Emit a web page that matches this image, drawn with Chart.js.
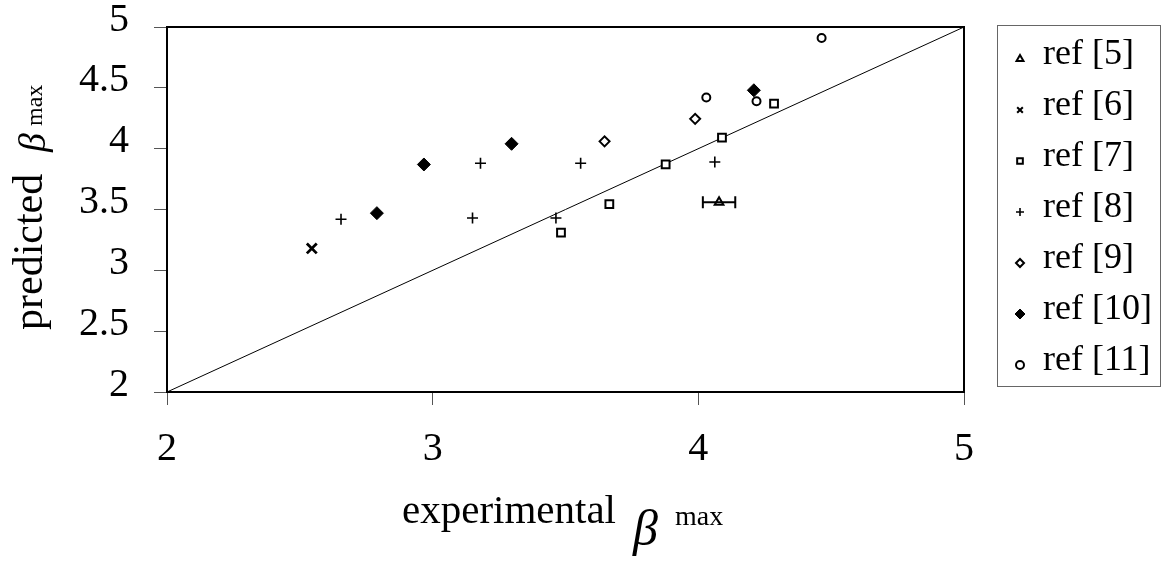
<!DOCTYPE html>
<html>
<head>
<meta charset="utf-8">
<script src="https://cdn.jsdelivr.net/npm/chart.js@4/dist/chart.umd.min.js"></script>
<style>
  html, body { margin: 0; padding: 0; background: #fff; }
  #wrap { width: 1163px; height: 565px; }
</style>
</head>
<body>
<div id="wrap"><canvas id="chart" width="1163" height="565"></canvas></div>
<script>
// values (experimental vs predicted beta max)
const ref5X = [4.078];
const ref5Y = [3.56];
const ref5Err = [0.061];
const ref6X = [2.545];
const ref6Y = [3.18];
const ref7X = [3.483, 3.665, 3.877, 4.089, 4.285];
const ref7Y = [3.31, 3.545, 3.87, 4.09, 4.37];
const ref8X = [2.655, 3.15, 3.18, 3.464, 3.557, 4.062];
const ref8Y = [3.42, 3.43, 3.88, 3.43, 3.88, 3.89];
const ref9X = [3.647, 3.988];
const ref9Y = [4.06, 4.245];
const ref10X = [2.79, 2.967, 3.297, 4.209];
const ref10Y = [3.47, 3.87, 4.04, 4.48];
const ref11X = [4.03, 4.219, 4.464];
const ref11Y = [4.42, 4.39, 4.91];
const diagX = [2, 5];
const diagY = [2, 5];

const legendLabels = ['ref [5]', 'ref [6]', 'ref [7]', 'ref [8]', 'ref [9]', 'ref [10]', 'ref [11]'];
const xTickValues = [2, 3, 4, 5];
const yTickValues = [2, 2.5, 3, 3.5, 4, 4.5, 5];

const SERIF = "'Liberation Serif', 'Times New Roman', serif";

function pts(xs, ys) {
    return xs.map((x, i) => ({ x: x, y: ys[i] }));
}

function markerSet(label, xs, ys, style, radius, fill, width) {
    return {
        label: label,
        data: pts(xs, ys),
        pointStyle: style,
        pointRadius: radius,
        pointHoverRadius: radius,
        pointBorderColor: '#000',
        pointBackgroundColor: fill,
        pointBorderWidth: width,
        borderColor: '#000',
        backgroundColor: fill,
        showLine: false
    };
}

const datasets = [
    markerSet(legendLabels[0], ref5X, ref5Y, 'triangle', 5, '#fff', 2),
    markerSet(legendLabels[1], ref6X, ref6Y, 'crossRot', 7, '#000', 2.8),
    markerSet(legendLabels[2], ref7X, ref7Y, 'rect', 5.5, '#fff', 2),
    markerSet(legendLabels[3], ref8X, ref8Y, 'cross', 5.5, '#000', 1.6),
    markerSet(legendLabels[4], ref9X, ref9Y, 'rectRot', 5, '#fff', 2),
    markerSet(legendLabels[5], ref10X, ref10Y, 'rectRot', 6.5, '#000', 1),
    markerSet(legendLabels[6], ref11X, ref11Y, 'circle', 4, '#fff', 2),
    {
        label: 'y = x',
        data: pts(diagX, diagY),
        showLine: true,
        borderColor: '#000',
        borderWidth: 1,
        pointRadius: 0,
        pointHoverRadius: 0
    }
];

// box round the plot, error bar, titles and the legend
const decorations = {
    id: 'decorations',
    afterDatasetsDraw(chart) {
        const ctx = chart.ctx;
        const xs = chart.scales.x;
        const ys = chart.scales.y;

        // horizontal error bar on ref [5]
        ctx.save();
        ctx.strokeStyle = '#000';
        ctx.lineWidth = 2;
        ref5X.forEach((x, i) => {
            const y = ys.getPixelForValue(ref5Y[i]);
            const x0 = xs.getPixelForValue(x - ref5Err[i]);
            const x1 = xs.getPixelForValue(x + ref5Err[i]);
            ctx.beginPath();
            ctx.moveTo(x0, y); ctx.lineTo(x1, y);
            ctx.moveTo(x0, y - 6); ctx.lineTo(x0, y + 6);
            ctx.moveTo(x1, y - 6); ctx.lineTo(x1, y + 6);
            ctx.stroke();
        });
        ctx.restore();
    },
    afterDraw(chart) {
        const ctx = chart.ctx;
        const a = chart.chartArea;

        ctx.save();
        ctx.strokeStyle = '#000';
        ctx.lineWidth = 2;
        ctx.strokeRect(a.left, a.top, a.right - a.left, a.bottom - a.top);

        // x title
        ctx.fillStyle = '#000';
        ctx.textBaseline = 'alphabetic';
        ctx.textAlign = 'left';
        ctx.font = '41px ' + SERIF;
        ctx.fillText('experimental', 402, 523);
        ctx.font = 'italic 50px ' + SERIF;
        ctx.fillText('\u03B2', 633, 545);
        ctx.font = '28px ' + SERIF;
        ctx.fillText('max', 675, 525);

        // y title
        ctx.save();
        ctx.translate(42, 330);
        ctx.rotate(-Math.PI / 2);
        ctx.font = '42px ' + SERIF;
        ctx.fillText('predicted', 0, 0);
        ctx.font = 'italic 38px ' + SERIF;
        ctx.fillText('\u03B2', 178, 3);
        ctx.font = '24px ' + SERIF;
        ctx.fillText('max', 204, 0);
        ctx.restore();

        // legend
        ctx.strokeStyle = '#666';
        ctx.lineWidth = 1;
        ctx.strokeRect(997.5, 25.5, 163, 361);
        ctx.font = '36px ' + SERIF;
        ctx.textBaseline = 'middle';
        legendLabels.forEach((label, i) => {
            const ds = chart.data.datasets[i];
            const y = 55 + i * 51;
            const filled = ds.pointStyle === 'rectRot' && ds.pointBackgroundColor === '#000';
            ctx.fillStyle = ds.pointBackgroundColor;
            ctx.strokeStyle = '#000';
            ctx.lineWidth = Math.min(ds.pointBorderWidth, 2);
            Chart.helpers.drawPoint(ctx, {
                pointStyle: ds.pointStyle,
                radius: filled ? 5 : 4,
                rotation: 0,
                borderWidth: Math.min(ds.pointBorderWidth, 2)
            }, 1020, y + 4);
            ctx.fillStyle = '#000';
            ctx.fillText(label, 1043, y);
        });
        ctx.restore();
    }
};

const tickFont = { family: SERIF, size: 40 };

new Chart(document.getElementById('chart').getContext('2d'), {
    type: 'scatter',
    data: { datasets: datasets },
    options: {
        responsive: false,
        animation: false,
        events: [],
        layout: { padding: { left: 0, top: 27, right: 199, bottom: 0 } },
        plugins: {
            legend: { display: false },
            tooltip: { enabled: false }
        },
        scales: {
            x: {
                type: 'linear',
                min: 2,
                max: 5,
                afterBuildTicks: s => { s.ticks = xTickValues.map(v => ({ value: v })); },
                afterFit: s => { s.height = 173; s.paddingLeft = 0; s.paddingRight = 0; },
                grid: { drawOnChartArea: false, drawTicks: true, tickLength: 13, color: '#555', lineWidth: 1 },
                border: { display: false },
                ticks: { color: '#000', font: tickFont, padding: 20, maxRotation: 0, callback: v => String(v) }
            },
            y: {
                type: 'linear',
                min: 2,
                max: 5,
                afterBuildTicks: s => { s.ticks = yTickValues.map(v => ({ value: v })); },
                afterFit: s => { s.width = 167; s.paddingTop = 0; s.paddingBottom = 0; },
                grid: { drawOnChartArea: false, drawTicks: true, tickLength: 13, color: '#555', lineWidth: 1 },
                border: { display: false },
                ticks: { color: '#000', font: tickFont, padding: 25, labelOffset: -7, callback: v => String(v) }
            }
        }
    },
    plugins: [decorations]
});
</script>
</body>
</html>
